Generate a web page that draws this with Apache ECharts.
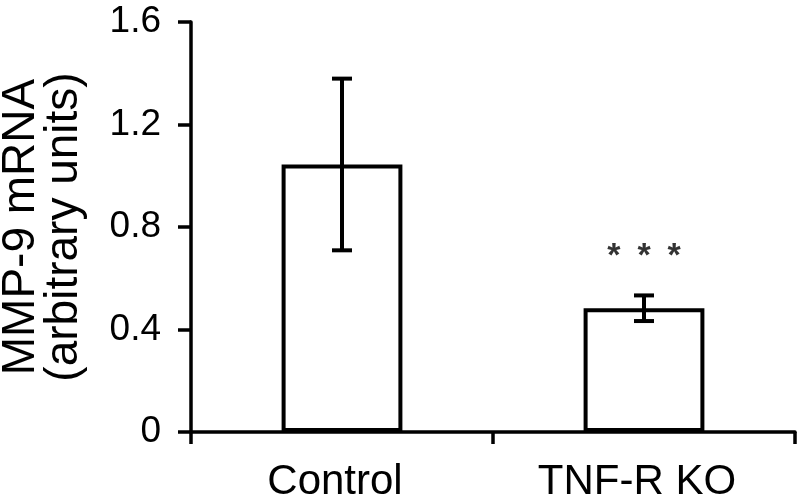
<!DOCTYPE html>
<html>
<head>
<meta charset="utf-8">
<script src="https://cdn.jsdelivr.net/npm/echarts@6/dist/echarts.min.js"></script>
<style>
  html, body { margin: 0; padding: 0; background: #fff; }
  #chart { width: 800px; height: 503px; }
</style>
</head>
<body>
<div id="chart"></div>
<script>
    // values
    const categories = ['Control', 'TNF-R KO']
    const means = [1.044, 0.483]
    const errors = [0.335, 0.05]
    const sigLabels = ['', '*\u2002*\u2002*']
    const sigLevels = [null, 0.685]
    const yTicks = { min: 0, max: 1.6, interval: 0.4 }

    const FONT = 'Liberation Sans'
    const ink = '#000'

    const errorData = means.map((m, i) => [i, m - errors[i], m + errors[i]])
    const sigData = sigLevels.map((v, i) => v == null ? null : { value: [i, v], label: { formatter: sigLabels[i] } }).filter(d => d)

    const renderError = (params, api) => {
        let x = api.value(0)
        let lo = api.coord([x, api.value(1)])
        let hi = api.coord([x, api.value(2)])
        let cap = 10
        let style = { stroke: ink, lineWidth: 4 }
        return {
            type: 'group',
            children: [
                { type: 'line', shape: { x1: hi[0], y1: hi[1], x2: lo[0], y2: lo[1] }, style: style },
                { type: 'line', shape: { x1: hi[0] - cap, y1: hi[1], x2: hi[0] + cap, y2: hi[1] }, style: style },
                { type: 'line', shape: { x1: lo[0] - cap, y1: lo[1], x2: lo[0] + cap, y2: lo[1] }, style: style }
            ]
        }
    }

    let option = {
        animation: false,
        textStyle: { fontFamily: FONT },
        grid: { left: 191, right: 5, top: 22, bottom: 71, containLabel: false, outerBoundsMode: 'none' },
        xAxis: {
            type: 'category',
            data: categories,
            axisLine: { lineStyle: { color: ink, width: 3.5 } },
            axisTick: { show: true, length: 12, lineStyle: { color: ink, width: 3.5 } },
            axisLabel: { color: ink, fontSize: 42, fontFamily: FONT, margin: 29, padding: [0, 14, 0, 0] }
        },
        yAxis: {
            type: 'value',
            min: yTicks.min,
            max: yTicks.max,
            interval: yTicks.interval,
            name: 'MMP-9 mRNA\n(arbitrary units)',
            nameLocation: 'middle',
            nameGap: 105,
            nameRotate: 90,
            nameTextStyle: { color: ink, fontSize: 46, fontFamily: FONT, lineHeight: 43 },
            axisLine: { show: true, lineStyle: { color: ink, width: 3.5 } },
            axisTick: { show: true, length: 13, lineStyle: { color: ink, width: 3.5 } },
            axisLabel: {
                color: ink, fontSize: 37, fontFamily: FONT, margin: 30,
                formatter: v => v === 0 ? '0' : v.toFixed(1)
            },
            splitLine: { show: false }
        },
        series: [
            {
                type: 'bar',
                data: means,
                barWidth: '40%',
                itemStyle: { color: '#fff', borderColor: ink, borderWidth: 4 }
            },
            {
                type: 'custom',
                data: errorData,
                renderItem: renderError,
                z: 5
            },
            {
                type: 'scatter',
                data: sigData,
                symbolSize: 0,
                label: { show: true, position: 'inside', color: ink, fontSize: 34, fontWeight: 'bold', fontFamily: FONT }
            }
        ]
    }

    let EC = echarts.init(document.getElementById('chart'))
    EC.setOption(option)
</script>
</body>
</html>
